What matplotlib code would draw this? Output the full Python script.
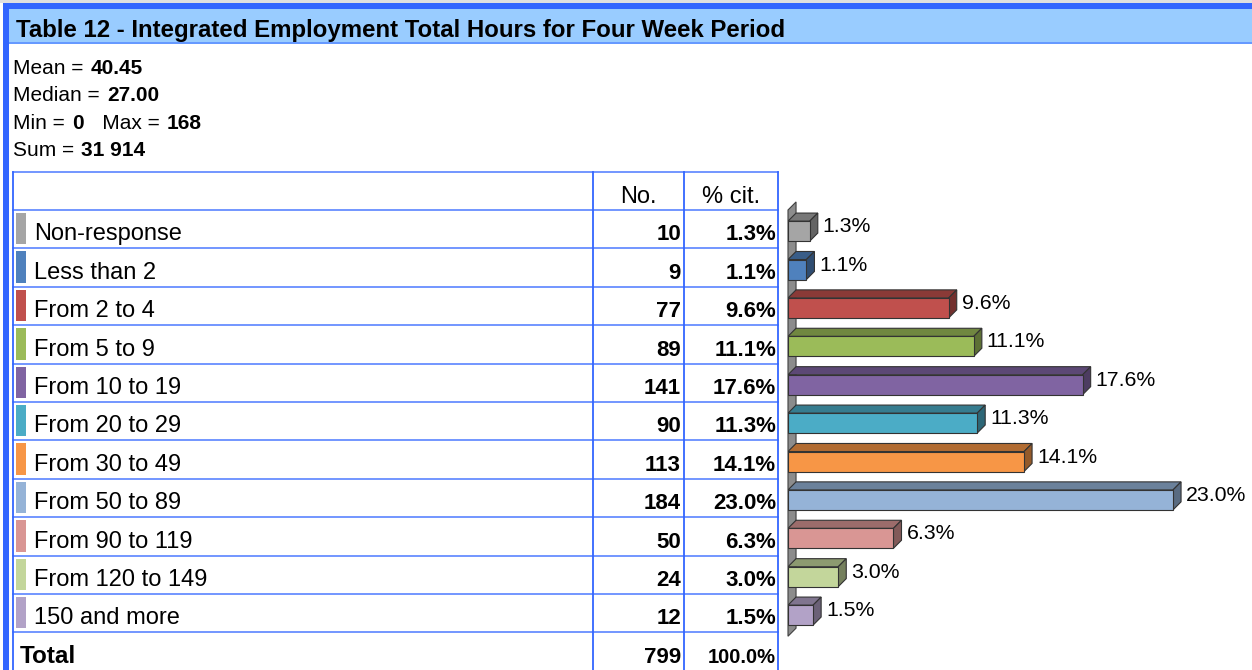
import matplotlib.pyplot as plt
from matplotlib.patches import Rectangle, Polygon
from matplotlib.colors import to_rgb

plt.rcParams['font.family'] = ['Liberation Sans', 'DejaVu Sans']

# Data
title = "Table 12 - Integrated Employment Total Hours for Four Week Period"
categories = ["Non-response", "Less than 2", "From 2 to 4", "From 5 to 9",
              "From 10 to 19", "From 20 to 29", "From 30 to 49", "From 50 to 89",
              "From 90 to 119", "From 120 to 149", "150 and more"]
counts = [10, 9, 77, 89, 141, 90, 113, 184, 50, 24, 12]
percents = [1.3, 1.1, 9.6, 11.1, 17.6, 11.3, 14.1, 23.0, 6.3, 3.0, 1.5]
total_count = 799
total_pct = "100.0%"
colors = ["#A5A5A5", "#4F81BD", "#C0504D", "#9BBB59", "#8064A2", "#4BACC6",
          "#F79646", "#95B3D7", "#D99694", "#C3D69B", "#B2A2C7"]
stats = [[("Mean = ", False), ("40.45", True)],
         [("Median = ", False), ("27.00", True)],
         [("Min = ", False), ("0", True), ("   Max = ", False), ("168", True)],
         [("Sum = ", False), ("31 914", True)]]

W, H = 1252, 670
fig = plt.figure(figsize=(W / 100, H / 100), dpi=100)

# background layer in pixel units
bg = fig.add_axes([0, 0, 1, 1])
bg.set_xlim(0, W)
bg.set_ylim(H, 0)
bg.axis('off')

blue = "#3366FF"
line_blue = "#5A84FF"

# frame and title band
bg.add_patch(Rectangle((0, 0), W, 3, color="#E0E0E0", lw=0))
bg.add_patch(Rectangle((3, 3), W, 6, color=blue, lw=0))
bg.add_patch(Rectangle((3, 9), W, 33, color="#99CCFF", lw=0))
bg.add_patch(Rectangle((3, 42), W, 2, color="#6699FF", lw=0))
bg.add_patch(Rectangle((3, 3), 6, H, color=blue, lw=0))
bg.text(16, 36.5, title, fontsize=17.3, fontweight='bold', va='baseline', ha='left')

# summary statistics
for i, parts in enumerate(stats):
    y = 74 + i * 27.3
    prev = None
    for txt, bold in parts:
        w = 'bold' if bold else 'normal'
        if prev is None:
            prev = bg.text(13, y, txt, fontsize=15, fontweight=w, va='baseline', ha='left')
        else:
            prev = bg.annotate(txt, xy=(1, 0), xycoords=prev, xytext=(1, 0),
                               textcoords='offset points', fontsize=15, fontweight=w,
                               va='bottom', ha='left')

# table grid
x_left, x_c1, x_c2, x_right = 13, 593, 684, 778
head_top, row_top, row_h = 172, 210, 38.4
n_rows = len(categories) + 1
bottom = row_top + n_rows * row_h
bg.plot([x_left, x_right], [head_top, head_top], color=line_blue, lw=1.2)
for k in range(n_rows + 1):
    yy = row_top + k * row_h
    bg.plot([x_left, x_right], [yy, yy], color=line_blue, lw=1.2)
for xx in (x_left, x_c1, x_c2, x_right):
    bg.plot([xx, xx], [head_top, bottom], color=blue, lw=1.3)

bg.text((x_c1 + x_c2) / 2, row_top - 7, "No.", fontsize=17, ha='center', va='baseline')
bg.text((x_c2 + x_right) / 2, row_top - 7, "% cit.", fontsize=17, ha='center', va='baseline')

for i, (cat, n, p, c) in enumerate(zip(categories, counts, percents, colors)):
    top = row_top + i * row_h
    base = top + row_h - 8
    bg.add_patch(Rectangle((16, top + 3), 10, row_h - 7, color=c, lw=0))
    bg.text(34, base, cat, fontsize=17, ha='left', va='baseline')
    bg.text(x_c2 - 3, base, str(n), fontsize=16, fontweight='bold', ha='right', va='baseline')
    bg.text(x_right - 2, base, f"{p:.1f}%", fontsize=16, fontweight='bold', ha='right',
            va='baseline')

top = row_top + len(categories) * row_h
base = top + row_h - 8
bg.text(20, base, "Total", fontsize=17.5, fontweight='bold', ha='left', va='baseline')
bg.text(x_c2 - 3, base, str(total_count), fontsize=16, fontweight='bold', ha='right',
        va='baseline')
bg.text(x_right - 2, base, total_pct, fontsize=14.5, fontweight='bold', ha='right',
        va='baseline')

# 3D-looking bar chart
px0 = 788
ax = fig.add_axes([px0 / W, (H - (row_top + 11 * row_h)) / H, (W - px0) / W, 11 * row_h / H])
ax.set_xlim(0, (W - px0) / 16.74)
ax.set_ylim(10.5, -0.5)
ax.axis('off')

dx, dy = 0.48, 0.21
bh = 0.52
ypos = list(range(len(categories)))


def shade(c, f):
    r, g, b = to_rgb(c)
    return (r * f, g * f, b * f)


# back wall
ax.add_patch(Polygon([(0, -0.5), (dx, -0.5 - dy), (dx, 10.6 - dy), (0, 10.6)],
                     closed=True, facecolor="#8C8C8C", edgecolor="#404040", lw=0.8,
                     clip_on=False, zorder=1))

for y, p, c in zip(ypos, percents, colors):
    yc = y + 0.05
    t, b = yc - bh / 2, yc + bh / 2
    ax.add_patch(Polygon([(0, t), (p, t), (p + dx, t - dy), (dx, t - dy)], closed=True,
                         facecolor=shade(c, 0.72), edgecolor="#333333", lw=0.8, zorder=2))
    ax.add_patch(Polygon([(p, t), (p + dx, t - dy), (p + dx, b - dy), (p, b)], closed=True,
                         facecolor=shade(c, 0.6), edgecolor="#333333", lw=0.8, zorder=2))
    ax.text(p + dx + 0.3, y + 0.08, f"{p:.1f}%", fontsize=15.3, ha='left', va='baseline',
            clip_on=False)

bars = ax.barh(ypos, percents, height=bh, left=0, color=colors, edgecolor="#333333",
               lw=0.8, zorder=3, align='center')
# shift front faces slightly below row centre
for patch in bars:
    patch.set_y(patch.get_y() + 0.05)

fig.savefig("out.png", dpi=100)
